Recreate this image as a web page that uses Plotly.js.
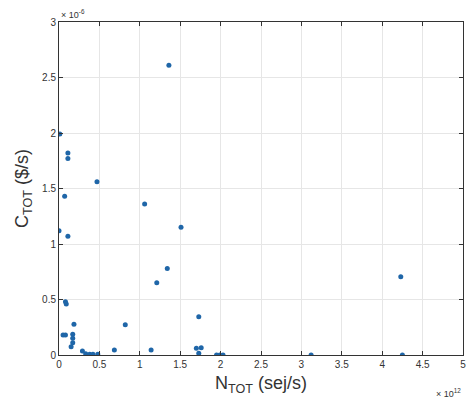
<!DOCTYPE html>
<html><head><meta charset="utf-8">
<script src="https://cdn.plot.ly/plotly-3.0.1.min.js"></script>
<style>html,body{margin:0;padding:0;background:#fff}#chart{width:467px;height:406px}</style>
</head><body><div id="chart"></div>
<script>
// N_TOT in units of 1e12 sej/s, C_TOT in units of 1e-6 $/s
const nTot = [0.01, 0.11, 0.11, 0.47, 0.07, 1.36, 1.06, 1.51, 0.00, 0.11, 1.34, 1.21,
  0.08, 0.09, 1.73, 0.82, 0.185, 0.05, 0.08, 0.17, 0.17, 0.17, 0.15,
  0.29, 0.33, 0.38, 0.42, 0.48, 0.685, 1.14, 1.70, 1.76, 1.73,
  1.95, 1.99, 2.03, 3.12, 4.23, 4.25];
const cTot = [1.99, 1.82, 1.77, 1.56, 1.43, 2.61, 1.36, 1.15, 1.12, 1.07, 0.78, 0.65,
  0.48, 0.46, 0.345, 0.273, 0.276, 0.18, 0.18, 0.186, 0.15, 0.11, 0.075,
  0.036, 0.012, 0.006, 0.006, 0.006, 0.045, 0.045, 0.06, 0.066, 0.015,
  0.0, 0.0, 0.0, 0.0, 0.705, 0.0];
const xTicks = [0, 0.5, 1, 1.5, 2, 2.5, 3, 3.5, 4, 4.5, 5];
const xTickText = ['0', '0.5', '1', '1.5', '2', '2.5', '3', '3.5', '4', '4.5', '5'];
const yTicks = [0, 0.5, 1, 1.5, 2, 2.5, 3];
const yTickText = ['0', '0.5', '1', '1.5', '2', '2.5', '3'];

const font = 'Liberation Sans, Arial, sans-serif';
const axisCommon = {
  showline: true, mirror: 'ticks', linecolor: '#333333', linewidth: 1,
  ticks: 'inside', ticklen: 4, tickcolor: '#333333',
  showgrid: true, gridcolor: '#e6e6e6', gridwidth: 1,
  zeroline: false, tickfont: {family: font, size: 10, color: '#333333'},
  tickmode: 'array'
};
Plotly.newPlot('chart', [{
  x: nTot, y: cTot, type: 'scatter', mode: 'markers',
  marker: {color: '#1f66a8', size: 5}
}], {
  width: 467, height: 406,
  margin: {l: 59, r: 4, t: 22, b: 51},
  paper_bgcolor: '#fff', plot_bgcolor: '#fff',
  showlegend: false,
  xaxis: Object.assign({}, axisCommon, {
    range: [0, 5], tickvals: xTicks, ticktext: xTickText,
    title: {text: 'N<sub>TOT</sub> (sej/s)', font: {family: font, size: 18, color: '#333333'}, standoff: 7}
  }),
  yaxis: Object.assign({}, axisCommon, {
    range: [0, 3], tickvals: yTicks, ticktext: yTickText,
    title: {text: 'C<sub>TOT</sub> ($/s)', font: {family: font, size: 18, color: '#333333'}, standoff: 8}
  }),
  annotations: [
    {xref: 'paper', yref: 'paper', x: 0.0, y: 1, xanchor: 'left', yanchor: 'bottom', showarrow: false,
     text: '\u00d7 10<sup>-6</sup>', font: {family: font, size: 9, color: '#333333'}},
    {xref: 'paper', yref: 'paper', x: 1, y: 0, xanchor: 'right', yanchor: 'top', yshift: -30, showarrow: false,
     text: '\u00d7 10<sup>12</sup>', font: {family: font, size: 9, color: '#333333'}}
  ]
}, {displayModeBar: false, staticPlot: true});
</script></body></html>
